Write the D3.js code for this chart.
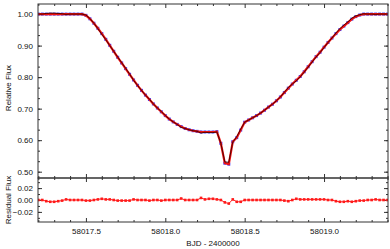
<!DOCTYPE html>
<html>
<head>
<meta charset="utf-8">
<style>
body { margin: 0; background: #fff; }
svg { display: block; font-family: "Liberation Sans", Arial, sans-serif; }
</style>
</head>
<body>
<svg width="390" height="249"></svg>
<script src="https://cdn.jsdelivr.net/npm/d3@7"></script>
<script>
// observation times (BJD - 2400000)
var times = [
  58017.200, 58017.225, 58017.250, 58017.275, 58017.300, 58017.325, 58017.350, 58017.375, 58017.400, 58017.425,
  58017.450, 58017.475, 58017.500, 58017.525, 58017.550, 58017.575, 58017.600, 58017.625, 58017.650, 58017.675,
  58017.700, 58017.725, 58017.750, 58017.775, 58017.800, 58017.825, 58017.850, 58017.875, 58017.900, 58017.925,
  58017.950, 58017.975, 58018.000, 58018.025, 58018.050, 58018.075, 58018.100, 58018.125, 58018.150, 58018.175,
  58018.200, 58018.225, 58018.250, 58018.275, 58018.300, 58018.325, 58018.350, 58018.375, 58018.400, 58018.425,
  58018.450, 58018.475, 58018.500, 58018.525, 58018.550, 58018.575, 58018.600, 58018.625, 58018.650, 58018.675,
  58018.700, 58018.725, 58018.750, 58018.775, 58018.800, 58018.825, 58018.850, 58018.875, 58018.900, 58018.925,
  58018.950, 58018.975, 58019.000, 58019.025, 58019.050, 58019.075, 58019.100, 58019.125, 58019.150, 58019.175,
  58019.200, 58019.225, 58019.250, 58019.275, 58019.300, 58019.325, 58019.350, 58019.375, 58019.400
];

// relative flux (observed)
var flux = [
  1.000, 1.000, 1.000, 1.000, 1.000, 1.000, 1.000, 1.000, 1.000, 1.000,
  1.000, 1.000, 0.996, 0.985, 0.971, 0.955, 0.938, 0.920, 0.901, 0.882,
  0.863, 0.845, 0.827, 0.809, 0.791, 0.774, 0.758, 0.743, 0.729, 0.715,
  0.702, 0.690, 0.678, 0.667, 0.658, 0.650, 0.643, 0.637, 0.633, 0.630,
  0.628, 0.626, 0.626, 0.626, 0.626, 0.627, 0.590, 0.527, 0.524, 0.595,
  0.608, 0.632, 0.657, 0.664, 0.671, 0.678, 0.686, 0.695, 0.705, 0.714,
  0.725, 0.737, 0.751, 0.765, 0.778, 0.790, 0.802, 0.817, 0.833, 0.849,
  0.865, 0.879, 0.895, 0.910, 0.924, 0.938, 0.951, 0.962, 0.973, 0.984,
  0.992, 0.997, 1.000, 1.000, 1.000, 1.000, 1.000, 1.000, 1.000
];

// residuals (observed - model)
var resid = [
  0.000, 0.000, -0.002, -0.003, -0.003, -0.002, -0.001, 0.001, 0.000, 0.000,
  0.000, 0.000, -0.001, -0.001, 0.000, 0.001, 0.002, 0.001, 0.001, 0.000,
  -0.001, -0.001, -0.001, -0.001, 0.001, 0.000, 0.000, 0.000, -0.001, 0.000,
  0.000, -0.001, 0.000, 0.000, 0.000, 0.000, 0.0025, 0.000, 0.000, 0.000,
  0.000, 0.0035, 0.001, 0.002, 0.002, 0.001, 0.000, -0.004, -0.006, 0.001,
  -0.003, -0.003, 0.000, 0.000, 0.000, 0.000, 0.000, 0.000, 0.000, 0.000,
  0.000, 0.000, -0.001, -0.002, 0.000, 0.002, 0.001, 0.001, 0.001, 0.001,
  0.001, 0.001, 0.001, 0.000, 0.000, -0.002, -0.003, -0.003, -0.002, -0.003,
  -0.002, -0.001, -0.001, 0.000, 0.000, 0.001, 0.000, 0.000, 0.000
];

var xTicks = [58017.5, 58018.0, 58018.5, 58019.0];
var fluxTicks = [0.50, 0.60, 0.70, 0.80, 0.90, 1.00];
var residTicks = [-0.02, 0.00, 0.02];

var svg = d3.select("svg"),
    pL = 38, pR = 388, pT = 4, pM = 178, pB = 222;

var data = times.map(function(t, i) {
  return { t: t, f: flux[i], r: resid[i], m: flux[i] - resid[i] };
});

var x = d3.scaleLinear().domain([58017.198, 58019.403]).range([pL, pR]);
var yF = d3.scaleLinear().domain([0.48, 1.032]).range([pM, pT]);
var yR = d3.scaleLinear().domain([-0.037, 0.037]).range([pB, pM]);

var xMinor = d3.range(58017.2, 58019.41, 0.1).filter(function(v) {
  return Math.abs(Math.round(v * 2) - v * 2) > 0.01;
});
var fMinor = d3.range(0.50, 1.03, 0.1 / 3);
var rMinor = d3.range(-0.03, 0.031, 0.01);

svg.append("clipPath").attr("id", "clipTop")
  .append("rect").attr("x", pL).attr("y", pT).attr("width", pR - pL).attr("height", pM - pT);
svg.append("clipPath").attr("id", "clipBot")
  .append("rect").attr("x", pL).attr("y", pM).attr("width", pR - pL).attr("height", pB - pM);

// ticks, all pointing inward
function ticks(g, axis, values, size, fmt, pad) {
  g.call(axis.tickValues(values).tickSize(-size).tickPadding(pad || 4).tickFormat(fmt || ""));
  g.select(".domain").remove();
  g.selectAll("line").attr("stroke", "#333");
  g.selectAll("text").attr("font-size", "8px").attr("fill", "#111")
    .style("font-family", "'Liberation Sans', Arial, sans-serif");
}

function tickSet(tr, axisFn, scale, major, minor, fmt) {
  var g1 = svg.append("g").attr("transform", tr);
  ticks(g1, axisFn(scale), minor, 2);
  var g2 = svg.append("g").attr("transform", tr);
  ticks(g2, axisFn(scale), major, 4, fmt, 5);
  return g2;
}

// upper panel
tickSet("translate(" + pL + ",0)", d3.axisLeft, yF, fluxTicks, fMinor, d3.format(".2f"));
tickSet("translate(" + pR + ",0)", d3.axisRight, yF, fluxTicks, fMinor);
tickSet("translate(0," + pT + ")", d3.axisTop, x, xTicks, xMinor);
tickSet("translate(0," + pM + ")", d3.axisBottom, x, xTicks, xMinor);

// residual panel
tickSet("translate(" + pL + ",0)", d3.axisLeft, yR, residTicks, rMinor, d3.format(".2f"));
tickSet("translate(" + pR + ",0)", d3.axisRight, yR, residTicks, rMinor);
tickSet("translate(0," + pM + ")", d3.axisTop, x, xTicks, xMinor);
var xb = tickSet("translate(0," + pB + ")", d3.axisBottom, x, xTicks, xMinor, d3.format(".1f"));
xb.selectAll("text").attr("dy", "0.9em");

var gTop = svg.append("g").attr("clip-path", "url(#clipTop)");

var fLine = d3.line().x(function(d) { return x(d.t); }).y(function(d) { return yF(d.f); });
var mLine = d3.line().x(function(d) { return x(d.t); }).y(function(d) { return yF(d.m); });

gTop.selectAll("rect.pt")
  .data(data)
  .enter().append("rect")
    .attr("class", "pt")
    .attr("x", function(d) { return x(d.t) - 1.5; })
    .attr("y", function(d) { return yF(d.f) - 1.5; })
    .attr("width", 3)
    .attr("height", 3)
    .attr("fill", "#3a3aff");

gTop.append("path").datum(data)
  .attr("d", fLine).attr("fill", "none").attr("stroke", "#ee1111").attr("stroke-width", 2.2);
gTop.append("path").datum(data)
  .attr("d", mLine).attr("fill", "none").attr("stroke", "#400000").attr("stroke-width", 0.9);

var gBot = svg.append("g").attr("clip-path", "url(#clipBot)");
gBot.append("path").datum(data)
  .attr("d", d3.line().x(function(d) { return x(d.t); }).y(function(d) { return yR(d.r); }))
  .attr("fill", "none").attr("stroke", "#ff2020").attr("stroke-width", 1);
gBot.selectAll("rect.rp")
  .data(data)
  .enter().append("rect")
    .attr("class", "rp")
    .attr("x", function(d) { return x(d.t) - 1.3; })
    .attr("y", function(d) { return yR(d.r) - 1.3; })
    .attr("width", 2.6)
    .attr("height", 2.6)
    .attr("fill", "#ff1a1a");

// frames
svg.append("rect").attr("x", pL).attr("y", pT).attr("width", pR - pL).attr("height", pM - pT)
  .attr("fill", "none").attr("stroke", "#333").attr("stroke-width", 1);
svg.append("rect").attr("x", pL).attr("y", pM).attr("width", pR - pL).attr("height", pB - pM)
  .attr("fill", "none").attr("stroke", "#333").attr("stroke-width", 1);

// axis titles
svg.append("text")
  .attr("transform", "translate(11,88) rotate(-90)")
  .attr("text-anchor", "middle").attr("font-size", "8px").attr("fill", "#111")
  .text("Relative Flux");
svg.append("text")
  .attr("transform", "translate(11,200) rotate(-90)")
  .attr("text-anchor", "middle").attr("font-size", "8px").attr("fill", "#111")
  .text("Residual Flux");
svg.append("text")
  .attr("x", (pL + pR) / 2).attr("y", 246)
  .attr("text-anchor", "middle").attr("font-size", "8px").attr("fill", "#111")
  .text("BJD - 2400000");
</script>
</body>
</html>
